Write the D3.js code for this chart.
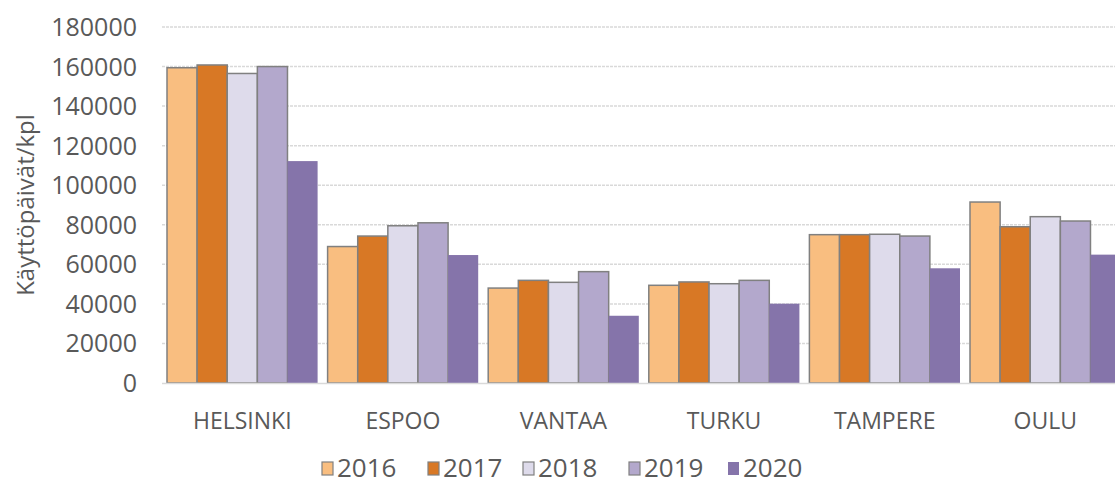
<!DOCTYPE html>
<html>
<head>
<meta charset="utf-8">
<script src="https://cdn.jsdelivr.net/npm/d3@7"></script>
<style>
  body { margin: 0; background: #fff; }
  svg { display: block; }
</style>
</head>
<body>
<svg id="chart" width="1115" height="479"></svg>
<script>
// data
const cities = ["HELSINKI", "ESPOO", "VANTAA", "TURKU", "TAMPERE", "OULU"];
const years = ["2016", "2017", "2018", "2019", "2020"];
const v2016 = [159400, 69000, 48000, 49400, 75000, 91500];
const v2017 = [160800, 74300, 51900, 51100, 75000, 79000];
const v2018 = [156500, 79500, 50900, 50200, 75200, 84100];
const v2019 = [160000, 81000, 56300, 51900, 74300, 81900];
const v2020 = [112200, 64700, 34000, 40100, 58000, 64900];
const yTicks = [0, 20000, 40000, 60000, 80000, 100000, 120000, 140000, 160000, 180000];
const colors = ["#F9BE80", "#D87825", "#DEDBEB", "#B3A8CC", "#8574AA"];

const series = [v2016, v2017, v2018, v2019, v2020];
const rows = cities.map((c, i) => ({city: c, values: years.map((y, j) => ({year: y, value: series[j][i]}))}));

const svg = d3.select("#chart");
const plotLeft = 162, step = 160.6, plotTop = 27, plotBottom = 383;
const font = "'Open Sans', 'Liberation Sans', sans-serif";

const p = 10 / step;
const x0 = d3.scaleBand().domain(cities)
    .range([plotLeft, plotLeft + step * cities.length])
    .paddingInner(p).paddingOuter(p / 2);
const x1 = d3.scaleBand().domain(years).range([0, x0.bandwidth()]);
const y = d3.scaleLinear().domain([0, 180000]).range([plotBottom, plotTop]);

// gridlines
svg.append("g")
    .selectAll("line")
    .data(yTicks.filter(d => d > 0))
    .join("line")
    .attr("x1", plotLeft).attr("x2", 1115)
    .attr("y1", d => y(d)).attr("y2", d => y(d))
    .attr("stroke", "#d9d9d9")
    .attr("stroke-width", 1.5)
    .attr("stroke-dasharray", "3,1");

// y tick labels
svg.append("g")
    .selectAll("text")
    .data(yTicks)
    .join("text")
    .attr("x", 137)
    .attr("y", d => y(d))
    .attr("dy", "0.36em")
    .attr("text-anchor", "end")
    .style("font", `25px ${font}`)
    .attr("fill", "#595959")
    .text(d => d);

// y label
svg.append("text")
    .attr("transform", "translate(34,205) rotate(-90)")
    .attr("text-anchor", "middle")
    .style("font", `24px ${font}`)
    .attr("fill", "#595959")
    .text("Käyttöpäivät/kpl");

// bars
const group = svg.append("g")
    .selectAll("g")
    .data(rows)
    .join("g")
    .attr("transform", d => `translate(${x0(d.city)},0)`);

group.selectAll("rect")
    .data(d => d.values)
    .join("rect")
    .attr("x", d => x1(d.year))
    .attr("y", d => y(d.value))
    .attr("width", x1.bandwidth())
    .attr("height", d => plotBottom - y(d.value))
    .attr("fill", (d, i) => colors[i])
    .attr("stroke", (d, i) => i == 4 ? "none" : "#808080")
    .attr("stroke-width", 1.5);

// baseline
svg.append("line")
    .attr("x1", plotLeft).attr("x2", 1115)
    .attr("y1", plotBottom + 0.5).attr("y2", plotBottom + 0.5)
    .attr("stroke", "#d9d9d9")
    .attr("stroke-width", 1.5);

// category labels
svg.append("g")
    .selectAll("text")
    .data(cities)
    .join("text")
    .attr("x", d => x0(d) + x0.bandwidth() / 2)
    .attr("y", 429)
    .attr("text-anchor", "middle")
    .style("font", `23px ${font}`)
    .attr("fill", "#595959")
    .text(d => d);

// legend
const legendX = [322, 428, 523, 629, 728];
const legend = svg.append("g")
    .selectAll("g")
    .data(years)
    .join("g")
    .attr("transform", (d, i) => `translate(${legendX[i]},0)`);

legend.append("rect")
    .attr("x", 0).attr("y", 462)
    .attr("width", 11).attr("height", 13)
    .attr("fill", (d, i) => colors[i])
    .attr("stroke", (d, i) => i == 4 ? "none" : "#808080")
    .attr("stroke-width", 1.2);

legend.append("text")
    .attr("x", 15).attr("y", 477)
    .style("font", `26px ${font}`)
    .attr("fill", "#595959")
    .text(d => d);
</script>
</body>
</html>
